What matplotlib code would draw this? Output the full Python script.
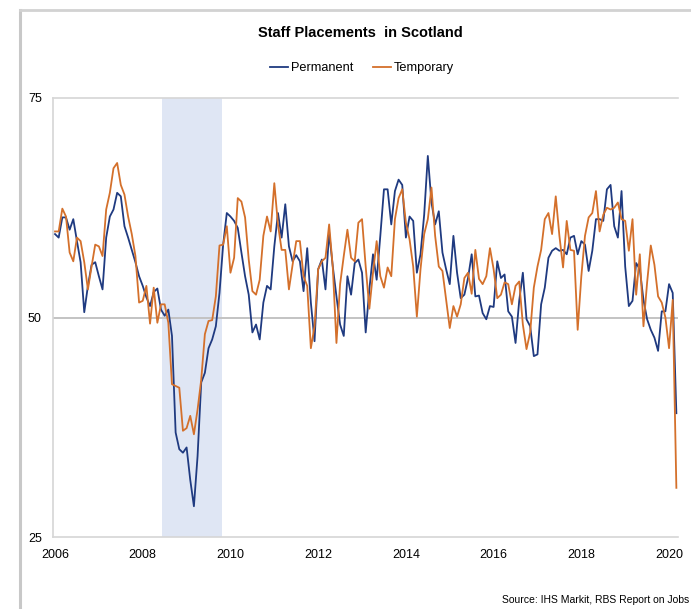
import matplotlib
matplotlib.use('Agg')
import matplotlib.pyplot as plt
import numpy as np
from matplotlib.lines import Line2D

# ---------------- data (monthly, Jan 2006 - Mar 2020) ----------------
permanent = [
    59.5, 59.1, 61.4, 61.4, 60.0, 61.2, 58.7, 56.3, 50.6, 53.6,
    56.0, 56.3, 54.7, 53.2, 59.1, 61.5, 62.3, 64.2, 63.8, 60.4,
    59.1, 57.7, 56.3, 54.7, 53.6, 52.3, 51.3, 52.9, 53.3, 50.9,
    50.2, 50.9, 47.9, 36.9, 35.0, 34.6, 35.2, 31.5, 28.5, 34.2,
    42.6, 43.7, 46.5, 47.5, 49.0, 52.8, 58.3, 61.9, 61.5, 61.0,
    60.2, 57.4, 54.7, 52.6, 48.3, 49.2, 47.5, 51.7, 53.6, 53.2,
    58.1, 61.9, 59.1, 62.9, 58.1, 56.4, 57.1, 56.4, 53.0, 57.9,
    51.7, 47.3, 55.5, 56.6, 53.2, 59.7, 55.8, 52.4, 49.2, 47.9,
    54.7, 52.6, 56.2, 56.6, 55.1, 48.3, 53.2, 57.2, 54.3, 59.3,
    64.6, 64.6, 60.6, 64.4, 65.7, 65.1, 59.1, 61.5, 61.0, 55.1,
    57.2, 61.7, 68.4, 63.1, 60.6, 62.1, 57.4, 55.5, 53.8, 59.3,
    55.1, 52.2, 52.6, 54.5, 57.2, 52.4, 52.5, 50.5, 49.8, 51.3,
    51.2, 56.4, 54.5, 54.9, 50.7, 50.1, 47.1, 51.9, 55.1, 49.8,
    49.0, 45.6, 45.8, 51.5, 53.4, 56.8, 57.6, 57.9, 57.6, 57.7,
    57.2, 59.1, 59.3, 57.2, 58.7, 58.3, 55.3, 57.6, 61.2, 61.2,
    61.0, 64.6, 65.1, 60.4, 59.1, 64.4, 55.8, 51.3, 51.9, 56.2,
    55.5, 52.0, 49.8, 48.6, 47.7, 46.2, 50.7, 50.7, 53.8, 52.8,
    39.1,
]

temporary = [
    59.8, 59.8, 62.4, 61.5, 57.4, 56.4, 59.1, 58.7, 56.3, 53.2,
    55.8, 58.3, 58.1, 57.0, 62.3, 64.2, 67.0, 67.6, 65.1, 64.0,
    61.5, 59.5, 57.0, 51.7, 51.9, 53.6, 49.3, 53.4, 49.4, 51.5,
    51.5, 49.4, 42.4, 42.2, 42.0, 37.1, 37.4, 38.8, 36.7, 39.5,
    42.9, 48.1, 49.6, 49.7, 52.4, 58.2, 58.3, 60.4, 55.1, 56.8,
    63.6, 63.2, 61.4, 56.6, 53.0, 52.6, 54.3, 59.3, 61.5, 59.8,
    65.3, 60.6, 57.7, 57.7, 53.2, 56.0, 58.7, 58.7, 54.7, 53.6,
    46.5, 49.0, 55.5, 56.4, 56.8, 60.6, 55.7, 47.1, 53.8, 57.0,
    60.0, 56.8, 56.4, 60.8, 61.2, 55.8, 51.0, 55.1, 58.7, 54.7,
    53.4, 55.7, 54.7, 61.2, 63.6, 64.6, 60.8, 58.9, 55.8, 50.1,
    55.5, 59.5, 61.2, 64.8, 59.3, 55.8, 55.3, 52.0, 48.8, 51.3,
    50.1, 51.5, 54.5, 55.1, 52.7, 57.7, 54.4, 53.8, 54.7, 57.9,
    55.5, 52.2, 52.6, 54.0, 53.8, 51.5, 53.6, 54.1, 49.2, 46.4,
    48.3, 53.4, 55.8, 57.7, 61.2, 61.9, 59.5, 63.8, 59.3, 55.7,
    61.0, 57.7, 57.6, 48.6, 54.7, 59.3, 61.4, 61.9, 64.4, 59.8,
    61.7, 62.5, 62.3, 62.5, 63.1, 61.2, 61.0, 57.6, 61.2, 52.6,
    57.2, 49.0, 54.0, 58.2, 56.0, 52.4, 51.7, 50.0, 46.5, 52.0,
    30.6,
]

start_year = 2006
recession = [2008.43, 2009.80]
y_ticks = [25, 50, 75]
x_ticks = [2006, 2008, 2010, 2012, 2014, 2016, 2018, 2020]
title = 'Staff Placements  in Scotland'
source = 'Source: IHS Markit, RBS Report on Jobs'

# ---------------- figure ----------------
plt.rcParams['font.family'] = ['Liberation Sans', 'DejaVu Sans']

W, H = 691, 609
fig = plt.figure(figsize=(W / 100, H / 100), dpi=100)
ax = fig.add_axes([53 / W, 1 - 537 / H, (678 - 53) / W, (537 - 98) / H])

years = start_year + np.arange(len(permanent)) / 12.0

ax.axvspan(recession[0], recession[1], color='#dfe6f4', lw=0, zorder=0)
ax.axhline(50, color='#c3c3c3', lw=1.4, zorder=1)
ax.plot(years, permanent, color='#1f3a80', lw=1.3, label='Permanent', zorder=3)
ax.plot(years, temporary, color='#d4702b', lw=1.3, label='Temporary', zorder=4)

ax.set_xlim(2005.954, 2020.204)
ax.set_ylim(25, 75)
ax.set_yticks(y_ticks)
ax.set_xticks(x_ticks)
ax.tick_params(axis='both', length=0, labelsize=9, colors='#000000')
ax.tick_params(axis='y', pad=8)
ax.tick_params(axis='x', pad=9)

for side in ['left', 'top', 'bottom']:
    ax.spines[side].set_color('#d6d6d6')
    ax.spines[side].set_linewidth(1.2)
ax.spines['right'].set_visible(False)

fig.text(360 / W, 1 - 33 / H, title, ha='center', va='center',
         fontsize=10.5, fontweight='bold')
fig.legend(loc='center', bbox_to_anchor=(362 / W, 1 - 68 / H), ncol=2,
           frameon=False, fontsize=9.2, handlelength=1.4, handletextpad=0.25,
           columnspacing=1.5)
fig.text(689 / W, 1 - 600 / H, source, ha='right', va='center', fontsize=7.5)

# page frame lines
fig.add_artist(Line2D([20 / W, 20 / W], [0, 1 - 10 / H], transform=fig.transFigure,
                      color='#c8c8c8', lw=2.2))
fig.add_artist(Line2D([20 / W, 1], [1 - 10 / H, 1 - 10 / H], transform=fig.transFigure,
                      color='#d2d2d2', lw=2.0))

fig.savefig('out.png', dpi=100)
